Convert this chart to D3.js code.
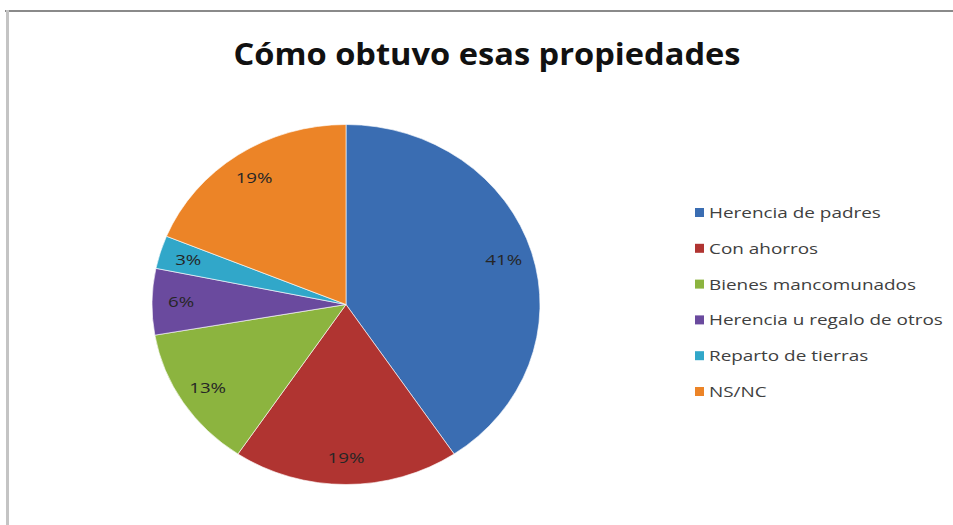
<!DOCTYPE html>
<html><head><meta charset="utf-8">
<script src="https://cdn.jsdelivr.net/npm/d3@7"></script>
<style>body{margin:0;background:#fff}svg{display:block}</style>
</head><body>
<script>
const title = "Cómo obtuvo esas propiedades";
const categories = ["Herencia de padres","Con ahorros","Bienes mancomunados","Herencia u regalo de otros","Reparto de tierras","NS/NC"];
const values = [41,19,13,6,3,19];
const colors = ["#3a6db2","#b03431","#8cb43f","#6a4a9e","#31a7c9","#ec8427"];

const W=953,H=525;
const svg=d3.select("body").append("svg").attr("width",W).attr("height",H);
svg.append("rect").attr("width",W).attr("height",H).attr("fill","#fff");
// frame
svg.append("line").attr("x1",5).attr("x2",W).attr("y1",11).attr("y2",11).attr("stroke","#8a8a8a").attr("stroke-width",2);
svg.append("line").attr("x1",7.5).attr("x2",7.5).attr("y1",10).attr("y2",H).attr("stroke","#c4c4c4").attr("stroke-width",3);

svg.append("text").attr("x",487).attr("y",65).attr("text-anchor","middle")
  .attr("font-family","'Open Sans', sans-serif").attr("font-weight",700).attr("font-size",31)
  .attr("fill","#111").attr("textLength",507).attr("lengthAdjust","spacingAndGlyphs").text(title);

const cx=346, cy=304.5, ry=180, sx=194/180;
const pie=d3.pie().sort(null).value(d=>d)(values);
const arc=d3.arc().innerRadius(0).outerRadius(ry);
const g=svg.append("g").attr("transform",`translate(${cx},${cy}) scale(${sx},1)`);
g.selectAll("path").data(pie).join("path").attr("d",arc).attr("fill",(d,i)=>colors[i])
  .attr("stroke","#fff").attr("stroke-width",0.6);

const labArc=d3.arc().innerRadius(ry*0.85).outerRadius(ry*0.85);
const lab=svg.append("g").attr("transform",`translate(${cx},${cy})`);
lab.selectAll("text").data(pie).join("text")
  .attr("transform",d=>{const c=labArc.centroid(d);return `translate(${c[0]*sx},${c[1]}) scale(1.25,1)`;})
  .attr("text-anchor","middle").attr("dy","0.35em")
  .attr("font-family","'Open Sans', sans-serif").attr("font-size",15)
  .attr("fill","#262626").text((d,i)=>values[i]+"%");

const leg=svg.append("g").attr("transform","translate(695,213)");
const row=leg.selectAll("g").data(categories).join("g").attr("transform",(d,i)=>`translate(0,${i*35.8})`);
row.append("rect").attr("x",0).attr("y",-5).attr("width",9).attr("height",9).attr("fill",(d,i)=>colors[i]);
const lt=row.append("text").attr("dy","0.35em").attr("font-family","'Open Sans', sans-serif")
  .attr("font-size",14.5).attr("fill","#404040").text(d=>d);
let maxw=0; lt.each(function(){maxw=Math.max(maxw,this.getComputedTextLength());});
const lsx=234/maxw;
lt.attr("transform",`translate(14,0) scale(${lsx},1)`);
</script>
</body></html>
